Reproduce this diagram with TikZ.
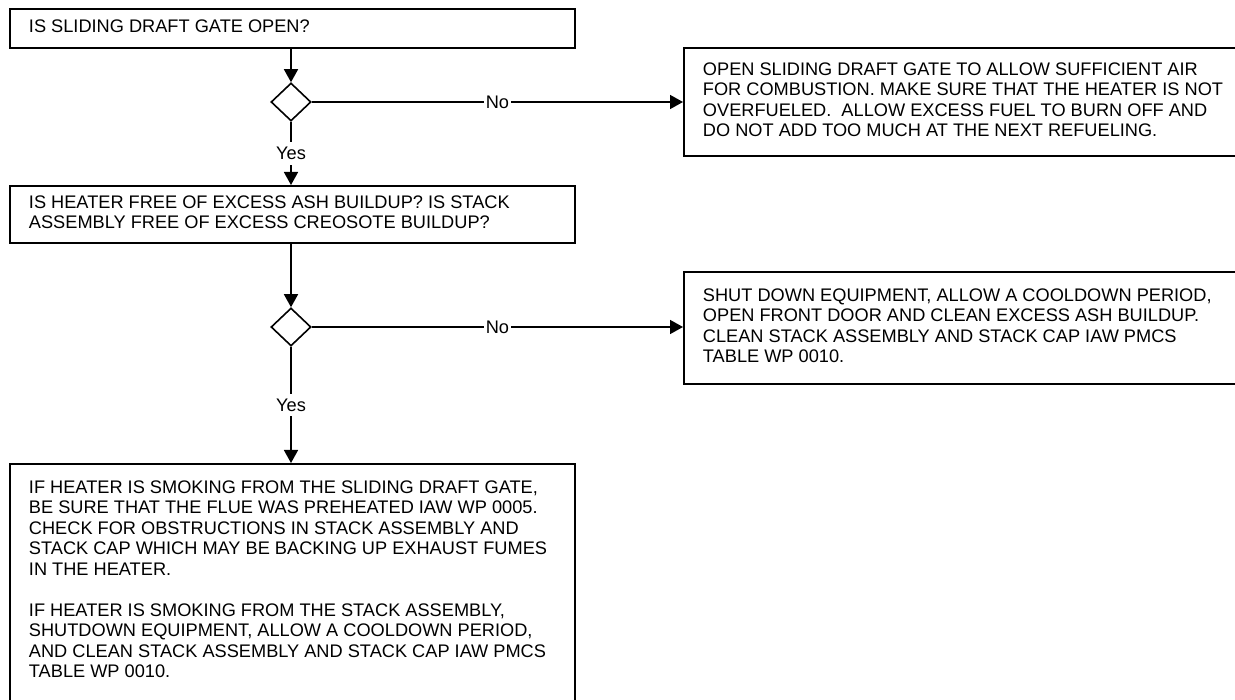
\documentclass[tikz,border=0pt]{standalone}
\usepackage{fontspec}
\setmainfont{Liberation Sans}
\usetikzlibrary{shapes.geometric,arrows.meta}
\newcommand{\boxlines}[2]{\makebox[#1][l]{\begin{tabular}{@{}l@{}}#2\end{tabular}}}
\newcommand{\boxlinestop}[2]{\makebox[#1][l]{\begin{tabular}[t]{@{}l@{}}#2\end{tabular}}}
\begin{document}
\begin{tikzpicture}[x=1pt,y=-1pt,
  box/.style={draw, line width=1.9pt, rectangle, anchor=north west, inner xsep=19pt, inner ysep=0pt, font=\fontsize{18.2pt}{20.5pt}\selectfont},
  dec/.style={draw, diamond, line width=1.6pt, minimum width=40pt, minimum height=38pt, inner sep=0pt},
  conn/.style={line width=1.6pt, -{Triangle[length=13pt,width=14pt]}},
  lbl/.style={fill=white, inner xsep=2pt, inner ysep=5pt, font=\fontsize{18.2pt}{20.5pt}\selectfont}]
\useasboundingbox (0,0) rectangle (1235,700);
% questions
\node[box, minimum width=565pt, minimum height=39pt] (q1) at (9,8)
  {\boxlines{527pt}{IS SLIDING DRAFT GATE OPEN?}};
\node[box, minimum width=565pt, minimum height=57pt] (q2) at (9,185)
  {\boxlines{527pt}{IS HEATER FREE OF EXCESS ASH BUILDUP? IS STACK\\ASSEMBLY FREE OF EXCESS CREOSOTE BUILDUP?}};
\node[box, minimum width=565pt, inner ysep=15pt, text depth=260pt] (q3) at (9,463)
  {\boxlinestop{527pt}{IF HEATER IS SMOKING FROM THE SLIDING DRAFT GATE,\\
   BE SURE THAT THE FLUE WAS PREHEATED IAW WP 0005.\\
   CHECK FOR OBSTRUCTIONS IN STACK ASSEMBLY AND\\
   STACK CAP WHICH MAY BE BACKING UP EXHAUST FUMES\\
   IN THE HEATER.\\
   \\
   IF HEATER IS SMOKING FROM THE STACK ASSEMBLY,\\
   SHUTDOWN EQUIPMENT, ALLOW A COOLDOWN PERIOD,\\
   AND CLEAN STACK ASSEMBLY AND STACK CAP IAW PMCS\\
   TABLE WP 0010.}};
% answers
\node[box, minimum width=570pt, minimum height=108pt] (a1) at (683,47)
  {\boxlines{532pt}{OPEN SLIDING DRAFT GATE TO ALLOW SUFFICIENT AIR\\
   FOR COMBUSTION. MAKE SURE THAT THE HEATER IS NOT\\
   OVERFUELED.\ \ ALLOW EXCESS FUEL TO BURN OFF AND\\
   DO NOT ADD TOO MUCH AT THE NEXT REFUELING.}};
\node[box, minimum width=570pt, minimum height=112pt] (a2) at (683,271)
  {\boxlines{532pt}{SHUT DOWN EQUIPMENT, ALLOW A COOLDOWN PERIOD,\\
   OPEN FRONT DOOR AND CLEAN EXCESS ASH BUILDUP.\\
   CLEAN STACK ASSEMBLY AND STACK CAP IAW PMCS\\
   TABLE WP 0010.}};
% decisions
\node[dec] (d1) at (291,102) {};
\node[dec] (d2) at (291,327) {};
% connectors
\draw[conn] (q1.south -| d1.north) -- (d1.north);
\draw[conn] (d1.east) -- node[lbl]{No} (d1.east -| a1.west);
\draw[conn] (d1.south) -- node[lbl]{Yes} (d1.south |- q2.north);
\draw[conn] (q2.south -| d2.north) -- (d2.north);
\draw[conn] (d2.east) -- node[lbl]{No} (d2.east -| a2.west);
\draw[conn] (d2.south) -- node[lbl]{Yes} (d2.south |- q3.north);
\end{tikzpicture}
\end{document}
